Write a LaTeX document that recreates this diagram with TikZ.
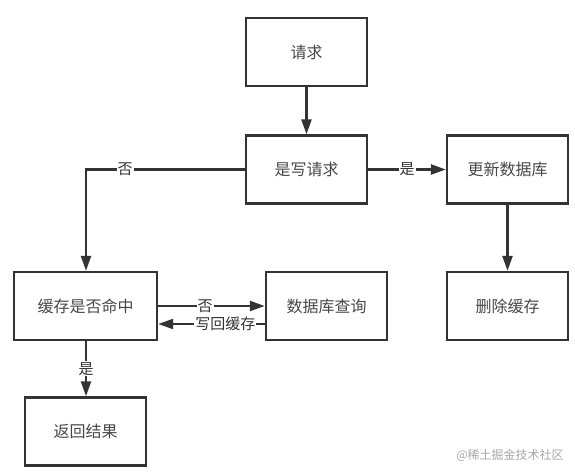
\documentclass[tikz,border=0pt]{standalone}
\usepackage{fontspec}
\setmainfont{Noto Sans CJK SC}
\usetikzlibrary{arrows.meta}
\definecolor{ink}{HTML}{333333}
\begin{document}
\begin{tikzpicture}[x=1pt,y=-1pt,
  box/.style={draw=ink,line width=2.4pt,minimum width=121pt,minimum height=68pt,inner sep=0pt,font=\fontsize{16}{16}\selectfont,text=ink!90},
  conn/.style={draw=ink,line width=2.4pt,-{Triangle[length=15pt,width=10pt]}},
  lbl/.style={fill=white,inner sep=1pt,font=\fontsize{15}{15}\selectfont,text=ink}]
\useasboundingbox (0,0) rectangle (575,476);
\node[box] (req) at (306.5,52) {请求};
\node[box] (isw) at (306.5,169.5) {是写请求};
\node[box] (upd) at (507.5,169.5) {更新数据库};
\node[box] (del) at (507.5,306) {删除缓存};
\node[box,minimum width=143pt] (hit) at (85.5,306) {缓存是否命中};
\node[box] (dbq) at (326.5,306) {数据库查询};
\node[box] (ret) at (85.5,431.5) {返回结果};
\coordinate (c1) at (86,169.5);
\draw[conn] (req) -- (isw);
\draw[conn] (isw.west) -- (c1) -- (hit.north -| c1);
\node[lbl] (n1) at (125,169.5) {否};
\draw[conn] (isw) -- (upd) node[lbl,midway] (y1) {是};
\draw[conn] (upd) -- (del);
\draw[conn] (hit.east) -- (hit.east -| dbq.west) node[lbl,pos=0.44] (n2) {否};
\draw[conn] ([yshift=-18pt]dbq.west) -- ([yshift=-18pt]dbq.west -| hit.east) node[lbl,pos=0.37] (w1) {写回缓存};
\draw[conn] (hit.south -| c1) -- (ret.north -| c1) node[lbl,midway] (y2) {是};
\node[font=\fontsize{12}{12}\selectfont,text=black!35] (wm) at (510,455) {@稀土掘金技术社区};
\end{tikzpicture}
\end{document}
